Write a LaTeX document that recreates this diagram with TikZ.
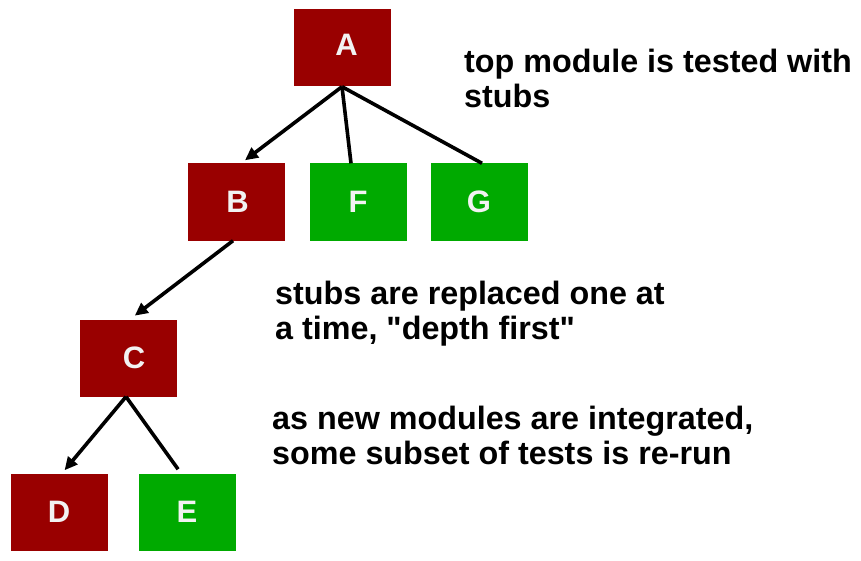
\documentclass[tikz,border=0pt]{standalone}
\usepackage{fontspec}
\setmainfont{Liberation Sans}
\usetikzlibrary{positioning,arrows.meta,calc}
\definecolor{stubred}{HTML}{990000}
\definecolor{stubgreen}{HTML}{00AA00}
\definecolor{labelwhite}{HTML}{F2F2F2}
\tikzset{
  mod/.style={rectangle, fill=#1, minimum width=97pt, minimum height=77pt,
              inner sep=0pt, text=labelwhite, font=\fontsize{31}{34}\selectfont\bfseries},
  ar/.style={-{Triangle[length=13pt,width=12pt]}, line width=3.6pt, draw=black},
  ln/.style={line width=3.6pt, draw=black},
  note/.style={anchor=base west, align=left, inner sep=0pt,
               font=\fontsize{32.3}{35}\selectfont\bfseries},
}
\begin{document}
\begin{tikzpicture}[x=1pt,y=-1pt]
  \useasboundingbox (0,0) rectangle (861,561);
  % modules
  \node[mod=stubred]   (A) at (342,48)  {\raisebox{7pt}{\hspace{9pt}A}};
  \node[mod=stubred]   (B) at (236,202) {\hspace{3pt}B};
  \node[mod=stubgreen] (F) at (358,202) {F};
  \node[mod=stubgreen] (G) at (479,202) {G};
  \node[mod=stubred]   (C) at (128,358) {\hspace{12pt}C};
  \node[mod=stubred]   (D) at (59,512)  {D};
  \node[mod=stubgreen] (E) at (187,512) {E};

  % notes (anchored on the last line)
  \node[note] (n1) at (464,108) {top module is tested with\\stubs};
  \node[note] (n2) at (275,339) {stubs are replaced one at\\a time, \textquotedbl depth first\textquotedbl};
  \node[note] (n3) at (272,464) {as new modules are integrated,\\some subset of tests is re-run};

  % connectors
  \draw[ar, shorten >=5pt] (A.south) -- ([xshift=5pt]B.north);
  \draw[ln] (A.south) -- ([xshift=-7pt]F.north);
  \draw[ln] (A.south) -- ([xshift=3pt]G.north);
  \draw[ar, shorten >=6pt] ([xshift=-3pt]B.south) -- ([xshift=2pt]C.north);
  \draw[ar, shorten >=4pt] ([xshift=-2pt]C.south) -- ([xshift=3pt]D.north);
  \draw[ln, shorten >=5pt] ([xshift=-2pt]C.south) -- ([xshift=-6pt]E.north);
\end{tikzpicture}
\end{document}
